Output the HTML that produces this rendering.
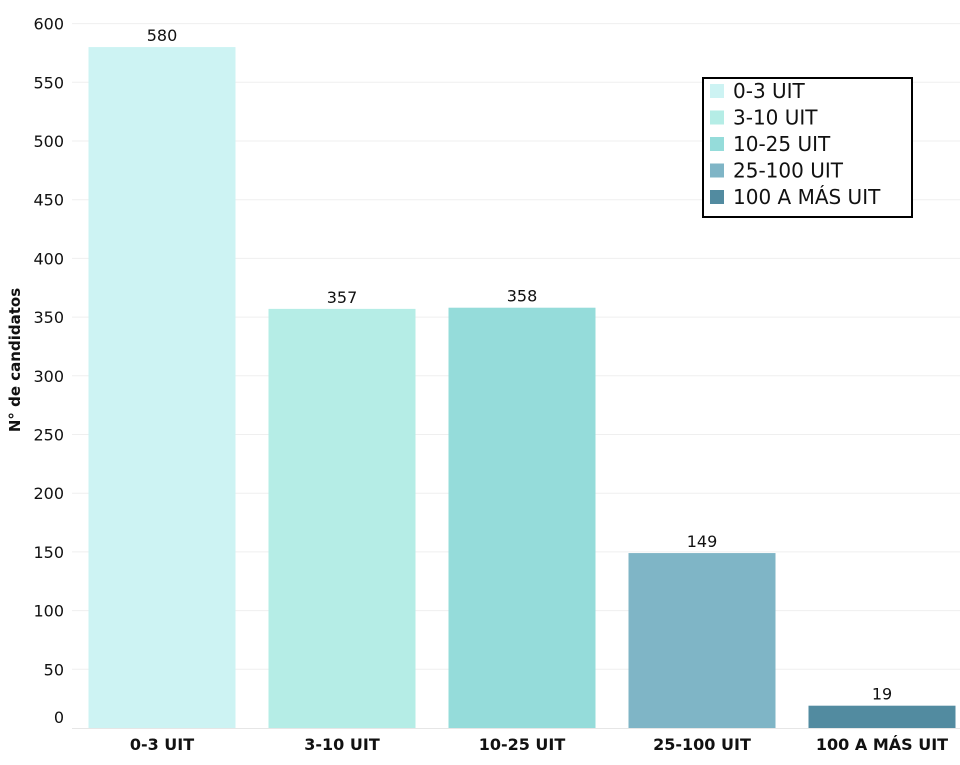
<!DOCTYPE html>
<html><head><meta charset="utf-8"><style>
body{margin:0;background:#fff;width:960px;height:761px;overflow:hidden;font-family:"DejaVu Sans","Liberation Sans",sans-serif}
</style></head><body>
<svg id="chart" width="960" height="761" xmlns="http://www.w3.org/2000/svg"></svg>
<script>
const categories=["0-3 UIT","3-10 UIT","10-25 UIT","25-100 UIT","100 A MÁS UIT"];
const values=[580,357,358,149,19];
const colors=["#cdf3f3","#b5ede6","#95dcda","#7fb5c6","#528ba0"];
const yTicks=[0,50,100,150,200,250,300,350,400,450,500,550,600];
const NS="http://www.w3.org/2000/svg";
const svg=document.getElementById('chart');
const x0=72,band=180,barW=147,y0=728,k=704.4/600;
const y=v=>y0-v*k;
const xb=i=>x0+i*band+(band-barW)/2;
function mk(t,a,p){const e=document.createElementNS(NS,t);for(const n in a)e.setAttribute(n,a[n]);(p||svg).appendChild(e);return e;}
yTicks.forEach(t=>{
  if(t>0){const g=mk('line',{x1:x0,x2:960,y1:y(t),y2:y(t),stroke:'#efefef','stroke-width':1});
  
  }
  const l=mk('text',{x:64,y:t===0?y(t)-5:y(t)+6,'text-anchor':'end','font-size':16,fill:'#111'});
  l.textContent=t;
  
  
});
const ax=mk('line',{x1:x0,x2:960,y1:y0+0.5,y2:y0+0.5,stroke:'#e6e6e6','stroke-width':1});


const yt=mk('text',{x:20,y:360,transform:'rotate(-90 20 360)','text-anchor':'middle','font-size':15,'font-weight':'bold',fill:'#111'});
yt.textContent='N° de candidatos';


values.forEach((v,i)=>{
  const r=mk('rect',{x:xb(i),y:y(v),width:barW,height:y0-y(v),fill:colors[i]});
  
  
  const t=mk('text',{x:xb(i)+barW/2,y:y(v)-6,'text-anchor':'middle','font-size':16,fill:'#111'});
  t.textContent=v;
  
  
  const c=mk('text',{x:xb(i)+barW/2,y:750,'text-anchor':'middle','font-size':16,'font-weight':'bold',fill:'#111'});
  c.textContent=categories[i];
  
  
});
const lg=mk('g',{});


mk('rect',{x:703,y:78,width:209,height:139,fill:'#fff',stroke:'#000','stroke-width':2},lg);
categories.forEach((c,i)=>{
  const cy=91+i*26.5;
  const s=mk('rect',{x:710,y:cy-7,width:14,height:14,fill:colors[i]},lg);
  
  
  const t=mk('text',{x:733,y:cy+7,'font-size':20,fill:'#111'},lg);
  t.textContent=c;
  
  
});
</script>
</body></html>
